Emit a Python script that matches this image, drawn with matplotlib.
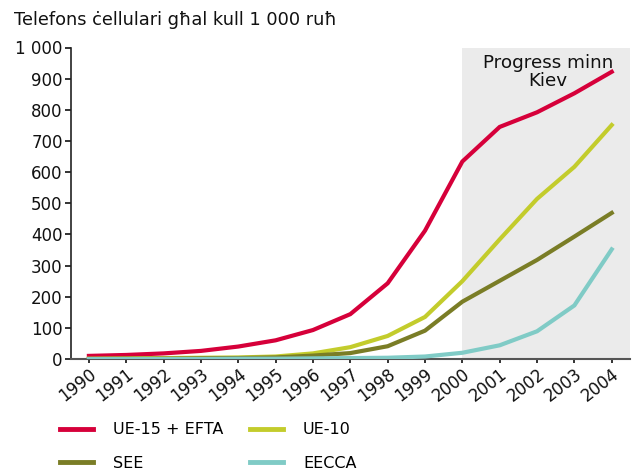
import matplotlib
matplotlib.use("Agg")
import matplotlib.pyplot as plt
from matplotlib.lines import Line2D

years = list(range(1990, 2005))
ue15_efta = [10, 13, 18, 26, 40, 60, 93, 144, 243, 412, 634, 745, 792, 853, 922]
ue10 = [1, 2, 3, 4, 5, 8, 18, 38, 74, 135, 250, 384, 514, 617, 751]
see = [0, 1, 1, 2, 3, 5, 11, 19, 41, 91, 184, 251, 318, 393, 469]
eecca = [0, 0, 0, 0, 1, 1, 2, 3, 4, 8, 20, 44, 89, 172, 352]

names = ["UE-15 + EFTA", "UE-10", "SEE", "EECCA"]
colors = ["#d6003a", "#c3cc2c", "#7a7d26", "#80cbc6"]
series = [ue15_efta, ue10, see, eecca]

plt.rcParams["font.family"] = "DejaVu Sans"

fig = plt.figure(figsize=(6.36, 4.75), dpi=100)
ax = fig.add_axes([0.1116, 0.2442, 0.8790, 0.6558])

# shaded period after Kiev
ax.axvspan(2000, 2004.49, color="#ebebeb", zorder=0, lw=0)
ax.text(2002.3, 980, "Progress minn\nKiev", ha="center", va="top",
        fontsize=13.2, linespacing=1.05, color="#111111")

for vals, c in zip(series, colors):
    ax.plot(years, vals, color=c, lw=3, solid_joinstyle="miter", zorder=3)

ax.set_xlim(1989.52, 2004.49)
ax.set_ylim(0, 1000)
ax.set_yticks(range(0, 1001, 100))
ax.set_yticklabels(["0", "100", "200", "300", "400", "500", "600", "700",
                    "800", "900", "1 000"])
ax.set_xticks(years)
ax.set_xticklabels([str(y) for y in years], rotation=38, ha="right",
                   rotation_mode="anchor")

for s in ["top", "right"]:
    ax.spines[s].set_visible(False)
ax.spines["left"].set_color("#222222")
ax.spines["bottom"].set_color("#555555")
ax.spines["left"].set_linewidth(1.2)
ax.spines["bottom"].set_linewidth(1.5)
ax.tick_params(axis="both", labelsize=12, colors="#111111", length=4, width=1.2, pad=2)
ax.tick_params(axis="x", length=3, pad=1)

fig.text(0.022, 0.958, "Telefons ċellulari għal kull 1 000 ruħ", fontsize=12.8,
         ha="left", va="center", color="#111111")

handles = [Line2D([], [], color=c, lw=3.5) for c in colors]
order = [0, 2, 1, 3]
fig.legend([handles[i] for i in order], [names[i] for i in order], ncol=2,
           loc="upper left", bbox_to_anchor=(0.085, 0.124), frameon=False,
           fontsize=11.5, handlelength=2.06, handletextpad=1.25,
           columnspacing=1.65, labelspacing=1.15, borderaxespad=0)

fig.savefig("out.png", dpi=100)
